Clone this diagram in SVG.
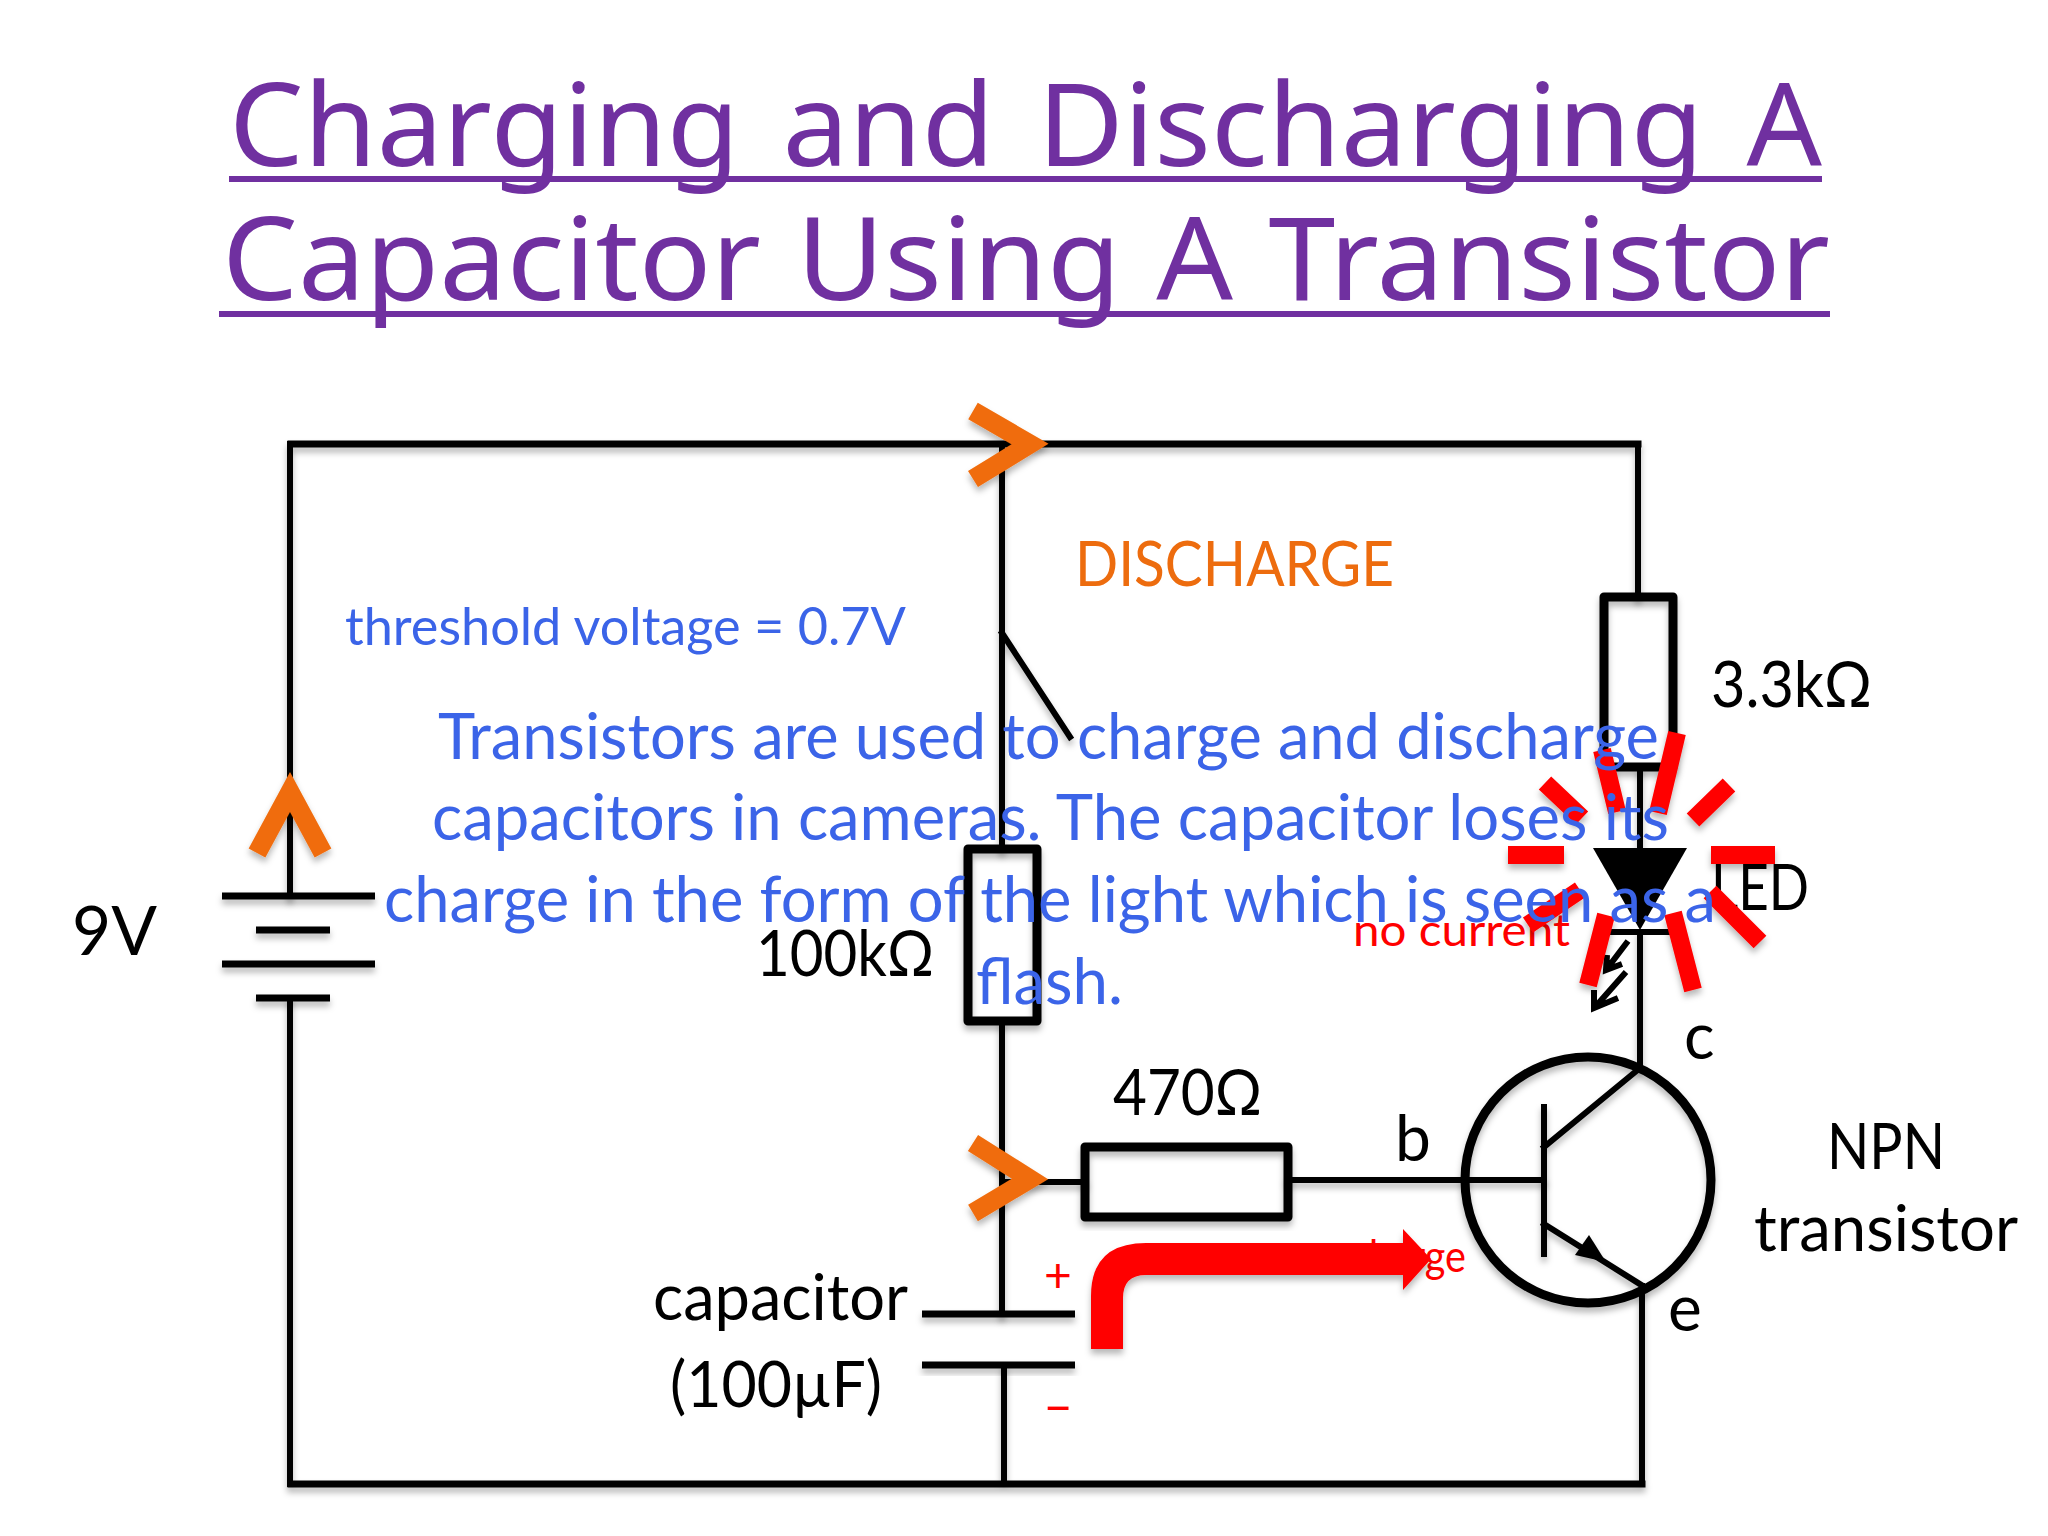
<svg xmlns="http://www.w3.org/2000/svg" width="2048" height="1536" viewBox="0 0 2048 1536">
<defs>
<filter id="sh" x="-20%" y="-20%" width="140%" height="140%"><feDropShadow dx="0" dy="5" stdDeviation="3" flood-color="#000" flood-opacity=".28"/></filter>
</defs>
<style>
text{font-family:"Lato","Liberation Sans",sans-serif}
.t{font-family:"Noto Sans","Liberation Sans",sans-serif;font-size:115px;fill:#7030a0;word-spacing:12px}
.k{font-size:64px;fill:#000}
.b{font-size:63px;fill:#3b64e8}
.r{font-size:44px;fill:#f00}
.w{fill:none;stroke:#000;stroke-width:6;stroke-linecap:square}
.p{fill:none;stroke:#000;stroke-width:7}
.box{fill:none;stroke:#000;stroke-width:9;stroke-linejoin:round}
.o{fill:none;stroke:#f06c0a;stroke-width:19}
.ray{fill:none;stroke:#f00;stroke-width:18}
</style>
<rect width="2048" height="1536" fill="#fff"/>
<g id="title">
<text class="t" x="229" y="166" textLength="1593" lengthAdjust="spacingAndGlyphs">Charging and Discharging A</text>
<text class="t" x="222" y="300" textLength="1608" lengthAdjust="spacingAndGlyphs" style="word-spacing:4px">Capacitor Using A Transistor</text>
<path d="M229 179H1822M219 314H1830" stroke="#7030a0" stroke-width="6" fill="none"/>
</g>
<g id="connectors" filter="url(#sh)">
<path class="w" style="stroke-width:7" d="M291 444H1638M291 1484H1642"/>
<path class="w" d="M290 444V896M290 998V1484M1002 444V849M1002 1021V1314M1004 1365V1484M1638 444V597M1640 767V848M1640 932V1068M1642 1286V1484M1002 633L1070 737M1002 1182H1085M1288 1180H1544"/>
</g>
<g id="battery" filter="url(#sh)">
<path class="p" d="M222 896H375M256 930H330M222 964H375M256 998H330"/>
</g>
<g id="r100k" filter="url(#sh)"><rect class="box" x="968" y="849" width="69" height="172"/></g>
<g id="r3k3" filter="url(#sh)"><rect class="box" x="1604" y="597" width="69" height="170"/></g>
<g id="r470" filter="url(#sh)"><rect class="box" x="1085" y="1147" width="203" height="70"/></g>
<g id="capacitor" filter="url(#sh)"><path class="p" d="M922 1314H1075M922 1365H1075"/></g>
<g id="led">
<polygon points="1593,848 1687,848 1640,930" fill="#000"/>
<path class="w" d="M1611 932H1669"/>
<path fill="none" stroke="#000" stroke-width="6" d="M1628 941L1606 970M1607 955L1606 970L1622 964M1626 972L1596 1006M1594 990L1594 1008L1618 998"/>
</g>
<g id="transistor" filter="url(#sh)">
<ellipse cx="1588" cy="1180" rx="123" ry="123" fill="none" stroke="#000" stroke-width="9"/>
<path class="w" d="M1544 1107V1254M1544 1147L1640 1068M1544 1224L1643 1286"/>
<polygon points="1606,1262 1589,1235 1575,1255" fill="#000"/>
</g>
<g id="labels">
<text class="k" x="72" y="955" textLength="85" lengthAdjust="spacingAndGlyphs" style="font-size:68px">9V</text>
<text class="k" x="756" y="976" textLength="178" lengthAdjust="spacingAndGlyphs">100kΩ</text>
<text class="k" x="1711" y="707" textLength="161" lengthAdjust="spacingAndGlyphs">3.3kΩ</text>
<text class="k" x="1711" y="910" textLength="98" lengthAdjust="spacingAndGlyphs">LED</text>
<text class="k" x="1113" y="1115" textLength="149" lengthAdjust="spacingAndGlyphs">470Ω</text>
<text class="k" x="1395" y="1161">b</text>
<text class="k" x="1684" y="1059">c</text>
<text class="k" x="1668" y="1331">e</text>
<text class="k" x="1827" y="1169" textLength="118" lengthAdjust="spacingAndGlyphs">NPN</text>
<text class="k" x="1754" y="1251" textLength="264" lengthAdjust="spacingAndGlyphs">transistor</text>
<text class="k" x="653" y="1320" textLength="255" lengthAdjust="spacingAndGlyphs">capacitor</text>
<text class="k" x="670" y="1407" textLength="212" lengthAdjust="spacingAndGlyphs">(100µF)</text>
<text class="r" x="1353" y="946" textLength="217" lengthAdjust="spacingAndGlyphs">no current</text>
<text class="r" x="1044" y="1292" style="font-size:48px">+</text>
<text class="r" x="1043" y="1424" style="font-size:52px">–</text>
<text class="r" x="1350" y="1272" textLength="116" lengthAdjust="spacingAndGlyphs">charge</text>
</g>
<g id="discharge-marks" filter="url(#sh)">
<path class="o" d="M973 411L1030 444L973 479"/>
<path class="o" d="M973 1143L1030 1179L973 1213"/>
<path class="o" d="M257 853L290 792L323 853"/>
</g>
<g id="current-arrow" filter="url(#sh)">
<path fill="#f00" d="M1091 1349V1296Q1091 1243 1146 1243H1403V1229L1431 1259L1403 1290V1275H1146Q1123 1275 1123 1298V1349Z"/>
</g>
<g id="rays" filter="url(#sh)">
<path class="ray" d="M1602 750L1617 812M1677 733L1658 813M1729 785L1693 820M1545 783L1582 818"/>
<path class="ray" d="M1508 855H1564M1711 855H1775"/>
<path class="ray" d="M1580 890L1528 925M1710 892L1760 942M1606 915L1588 985M1673 913L1693 990"/>
</g>
<g id="blue-text">
<text x="1075" y="586" textLength="319" lengthAdjust="spacingAndGlyphs" style="font-size:62px;fill:#ed6c0e">DISCHARGE</text>
<text class="b" x="345" y="645" textLength="561" lengthAdjust="spacingAndGlyphs" style="font-size:52px">threshold voltage = 0.7V</text>
<text class="b" x="438" y="759" textLength="1221" lengthAdjust="spacingAndGlyphs">Transistors are used to charge and discharge</text>
<text class="b" x="432" y="840" textLength="1237" lengthAdjust="spacingAndGlyphs">capacitors in cameras. The capacitor loses its</text>
<text class="b" x="384" y="922" textLength="1332" lengthAdjust="spacingAndGlyphs">charge in the form of the light which is seen as a</text>
<text class="b" x="976" y="1004" textLength="147" lengthAdjust="spacingAndGlyphs">flash.</text>
</g>
</svg>
